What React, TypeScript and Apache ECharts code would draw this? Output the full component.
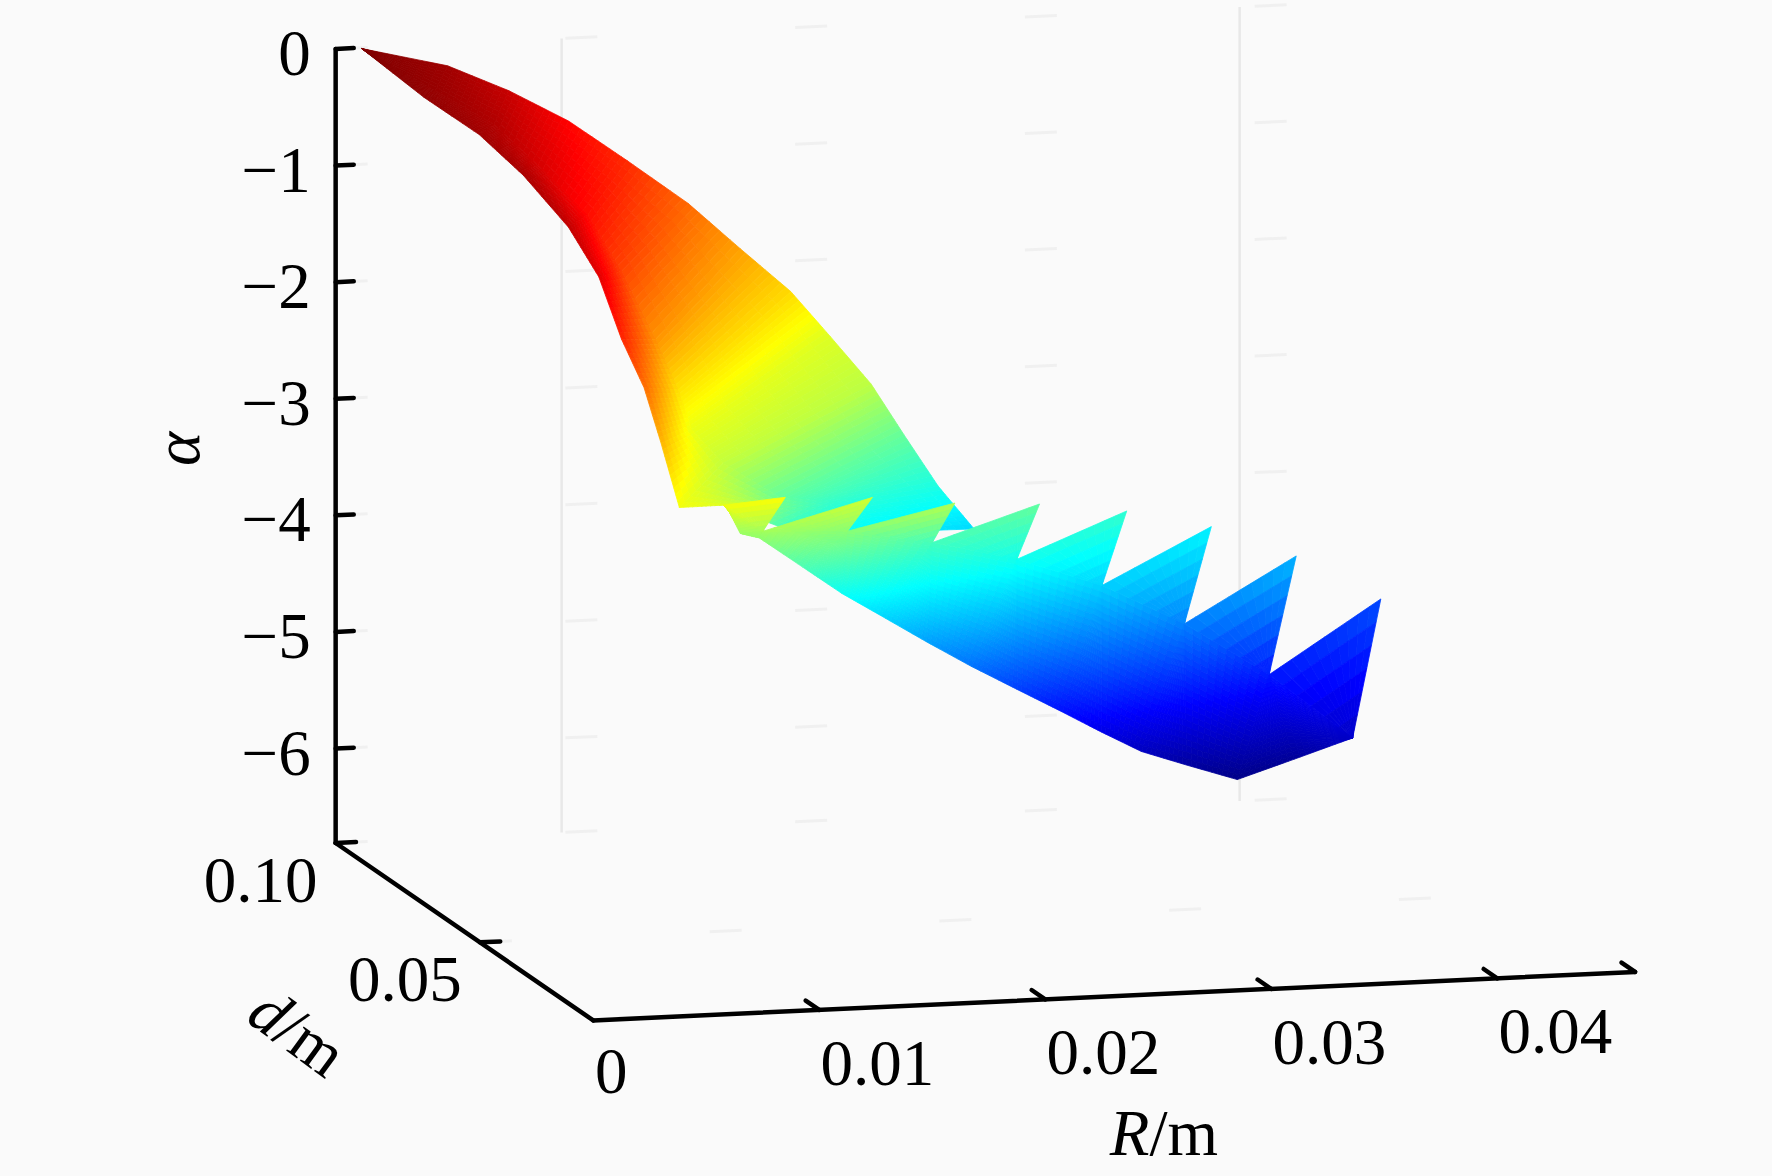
import React, { useEffect, useRef } from "react";
import * as echarts from "echarts";

// Surface nodes. Each row is a cross-section of the ribbon: [upper, middle, lower edge]
const ribbonR = [
  [0.0011, 0.0011, 0.0011],
  [0.00503, 0.00267, 0.00145],
  [0.00782, 0.00412, 0.0022],
  [0.01093, 0.00517, 0.00193],
  [0.01273, 0.00643, 0.00173],
  [0.01549, 0.00689, 0.0014],
  [0.01738, 0.00772, 0.0014],
  [0.01935, 0.00911, 0.00257],
  [0.02143, 0.00939, 0.0031],
  [0.02167, 0.01042, 0.00384],
  [0.02383, 0.01493, 0.0065],
  [0.02533, 0.01963, 0.01582],
  [0.02705, 0.0233, 0.01912],
];
const ribbonD = [
  [0.0996, 0.0996, 0.0996],
  [0.1006, 0.0864, 0.0808],
  [0.1013, 0.0774, 0.0675],
  [0.1049, 0.0688, 0.0501],
  [0.0987, 0.063, 0.0282],
  [0.0991, 0.0549, 0.0115],
  [0.0959, 0.0495, 0.0015],
  [0.0938, 0.0527, 0.0032],
  [0.0963, 0.0502, 0.001],
  [0.0841, 0.0466, 0.0003],
  [0.0896, 0.063, 0.0075],
  [0.0896, 0.0783, 0.0661],
  [0.0906, 0.0855, 0.0763],
];
const ribbonAlpha = [
  [0, 0, 0],
  [-0.2, -0.15, -0.1],
  [-0.45, -0.3, -0.2],
  [-0.8, -0.55, -0.25],
  [-1.05, -0.85, -0.4],
  [-1.45, -1.2, -0.6],
  [-1.8, -1.7, -1.0],
  [-2.15, -2.2, -1.45],
  [-2.6, -2.5, -1.9],
  [-2.8, -2.75, -2.45],
  [-3.35, -3.35, -2.55],
  [-3.8, -3.7, -3.7],
  [-4.2, -4.1, -4.0],
];

// Saw-toothed lobe: valleys of the teeth, tips of the teeth, and its lower edge
const valleyR = [0.0058, 0.00938, 0.01395, 0.01994, 0.02454, 0.0293, 0.03392, 0.03893, 0.04209];
const valleyD = [0.0005, 0.0187, 0.0269, 0.0492, 0.0561, 0.0639, 0.0715, 0.0814, 0.0772];
const valleyAlpha = [-2.45, -2.95, -3.1, -3.55, -3.85, -4.25, -4.75, -5.4, -5.9];
const tipR = [0.0085, 0.01386, 0.01834, 0.0253, 0.0306, 0.03562, 0.04018, 0.04566];
const tipD = [0, 0.015, 0.0233, 0.0542, 0.0655, 0.0755, 0.0818, 0.0954];
const tipAlpha = [-2.4, -2.65, -2.85, -3.35, -3.65, -4.0, -4.4, -5.05];
const edgeR = [0.00674, 0.00866, 0.00953, 0.01309, 0.01558, 0.01797, 0.02074, 0.02323, 0.02598, 0.0286, 0.03063, 0.03287, 0.03533, 0.03761, 0.04047, 0.04209];
const edgeD = [0.0074, 0.0215, 0.0218, 0.0358, 0.0457, 0.0516, 0.0576, 0.0614, 0.0673, 0.0722, 0.0744, 0.0782, 0.0818, 0.0821, 0.0849, 0.0772];
const edgeAlpha = [-2.6, -3.0, -3.05, -3.55, -3.9, -4.2, -4.55, -4.85, -5.17, -5.47, -5.7, -5.95, -6.15, -6.3, -6.2, -5.9];

const alphaTicks = [0, -1, -2, -3, -4, -5, -6];
const rTicks = [0, 0.01, 0.02, 0.03, 0.04];
const dTicks = [0.05, 0.1];
const rTickLabels = ["0", "0.01", "0.02", "0.03", "0.04"];
const dTickLabels = ["0.05", "0.10"];
const alphaFloor = -6.81;
const rEnd = 0.0461;
const wallVerticals = [0.01, 0.04];
const colorMin = -6.35;
const colorMax = 0;

const W = 1772;
const H = 1176;
const FONT = '"Liberation Serif", "Times New Roman", serif';

// Oblique view of the (R, d, alpha) box, on hidden pixel-unit axes
function dToDepth(d: number) {
  return d < 0.05 ? d * 8.8 : 0.44 + (d - 0.05) * 11.2;
}
function project(R: number, d: number, a: number): [number, number] {
  const r = R / 0.01;
  const t = dToDepth(d);
  return [
    593.25 + 226 * r - 257.6 * t,
    1020.4 - 10.51 * r - 177.4 * t - 116.6 * (a - alphaFloor),
  ];
}
function jet(a: number) {
  const v = (a - colorMin) / (colorMax - colorMin);
  const c = (x: number) => Math.round(255 * Math.max(0, Math.min(1, 1.5 - Math.abs(x))));
  return `rgb(${c(4 * v - 3)},${c(4 * v - 2)},${c(4 * v - 1)})`;
}

function quads(Rs: number[][], Ds: number[][], As: number[][]) {
  const out: number[][] = [];
  for (let i = 0; i + 1 < Rs.length; i++) {
    for (let j = 0; j + 1 < Rs[i].length; j++) {
      out.push([
        Rs[i][j], Ds[i][j], As[i][j],
        Rs[i + 1][j], Ds[i + 1][j], As[i + 1][j],
        Rs[i + 1][j + 1], Ds[i + 1][j + 1], As[i + 1][j + 1],
        Rs[i][j + 1], Ds[i][j + 1], As[i][j + 1],
      ]);
    }
  }
  return out;
}

// The lobe's body: rows from the valley rail to the lower edge
function lobeBody() {
  const rows: number[][] = [];
  for (let k = 0; k + 1 < valleyR.length; k++) {
    rows.push([k, 2 * k]);
    rows.push([k + 1, 2 * k + 1]);
  }
  return quads(
    rows.map(([v, e]) => [valleyR[v], edgeR[e]]),
    rows.map(([v, e]) => [valleyD[v], edgeD[e]]),
    rows.map(([v, e]) => [valleyAlpha[v], edgeAlpha[e]])
  );
}
// One triangular tooth per tip, between two neighbouring valleys
function lobeTeeth() {
  return tipR.map((_, k) => [
    valleyR[k], valleyD[k], valleyAlpha[k],
    tipR[k], tipD[k], tipAlpha[k],
    valleyR[k + 1], valleyD[k + 1], valleyAlpha[k + 1],
    valleyR[k + 1], valleyD[k + 1], valleyAlpha[k + 1],
  ]);
}

function surfaceRenderer(nu: number, nv: number) {
  return (_p: any, api: any) => {
    const corners = [0, 1, 2, 3].map((k) => {
      const a = api.value(k * 3 + 2);
      const [x, y] = project(api.value(k * 3), api.value(k * 3 + 1), a);
      return [x, y, a];
    });
    const at = (u: number, v: number) =>
      [0, 1, 2].map(
        (m) =>
          corners[0][m] * (1 - u) * (1 - v) +
          corners[1][m] * u * (1 - v) +
          corners[2][m] * u * v +
          corners[3][m] * (1 - u) * v
      );
    const children: any[] = [];
    for (let i = 0; i < nu; i++) {
      for (let j = 0; j < nv; j++) {
        const ps = [
          at(i / nu, j / nv),
          at((i + 1) / nu, j / nv),
          at((i + 1) / nu, (j + 1) / nv),
          at(i / nu, (j + 1) / nv),
        ];
        const mean = (ps[0][2] + ps[1][2] + ps[2][2] + ps[3][2]) / 4;
        const col = jet(mean);
        children.push({
          type: "polygon",
          shape: { points: ps.map((p) => api.coord([p[0], p[1]])) },
          style: { fill: col, stroke: col, lineWidth: 0.8 },
        });
      }
    }
    return { type: "group", children };
  };
}

function surfaceSeries(data: number[][], nu: number, nv: number) {
  return {
    type: "custom",
    silent: true,
    coordinateSystem: "cartesian2d",
    clip: false,
    data,
    renderItem: surfaceRenderer(nu, nv),
  };
}

function segmentSeries(segs: number[][], color: string, width: number, dash?: number[], cap = "round") {
  return {
    type: "custom",
    silent: true,
    coordinateSystem: "cartesian2d",
    clip: false,
    data: segs,
    renderItem: (_p: any, api: any) => {
      const a = project(api.value(0), api.value(1), api.value(2));
      const b = project(api.value(3), api.value(4), api.value(5));
      const p = api.coord(a);
      const q = api.coord(b);
      return {
        type: "line",
        shape: { x1: p[0], y1: p[1], x2: q[0], y2: q[1] },
        style: { stroke: color, lineWidth: width, lineDash: dash, lineCap: cap },
      };
    },
  };
}

export default function App() {
  const ref = useRef<HTMLDivElement>(null);
  useEffect(() => {
    document.body.style.margin = "0";
    document.body.style.background = "#fafafa";
    const chart = echarts.init(ref.current!, null, { renderer: "svg" });

    // axes and ticks
    const axisSegs: number[][] = [
      [0, 0.1, 0, 0, 0.1, alphaFloor],
      [0, 0.1, alphaFloor, 0, 0, alphaFloor],
      [0, 0, alphaFloor, rEnd, 0, alphaFloor],
    ];
    alphaTicks.forEach((a) => axisSegs.push([0, 0.1, a, 0.0008, 0.1, a]));
    dTicks.forEach((d) => axisSegs.push([0, d, alphaFloor, 0.0009, d, alphaFloor]));
    rTicks.slice(1).concat([rEnd]).forEach((R) => axisSegs.push([R, 0, alphaFloor, R, 0.006, alphaFloor]));

    // faint remains of the grid on the back wall and floor
    const wallDash: number[][] = [];
    alphaTicks.forEach((a) => wallDash.push([0, 0.1, a, rEnd, 0.1, a]));
    const floorDash: number[][] = dTicks.map((d) => [0, d, alphaFloor, rEnd, d, alphaFloor]);
    const wallLines: number[][] = wallVerticals.map((R) => [R, 0.1, 0, R, 0.1, alphaFloor]);

    const labels: any[] = [];
    const txt = (text: string, x: number, y: number, align = "center", extra: any = {}, rich?: any) =>
      labels.push({
        type: "text",
        x,
        y,
        silent: true,
        ...extra,
        style: {
          text,
          fontFamily: FONT,
          fontSize: 65,
          fill: "#000",
          textAlign: align,
          textVerticalAlign: "middle",
          ...(rich ? { rich } : {}),
        },
      });
    alphaTicks.forEach((a) => {
      const [x, y] = project(0, 0.1, a);
      txt(a === 0 ? "0" : "\u2212" + Math.abs(a), x - 25, y + 4, "right");
    });
    rTicks.forEach((R, i) => {
      const [x, y] = project(R, 0, alphaFloor);
      txt(rTickLabels[i], x + (R === 0 ? 18 : 58), y + (R === 0 ? 51 : 53));
    });
    dTicks.forEach((d, i) => {
      const [x, y] = project(0, d, alphaFloor);
      txt(dTickLabels[i], x - 75, y + 37);
    });
    const ital = { i: { fontFamily: FONT, fontSize: 65, fontStyle: "italic", fill: "#000" }, n: { fontFamily: FONT, fontSize: 65, fill: "#000" } };
    txt("{i|\u03b1}", 177, 449, "center", { rotation: Math.PI / 2 }, ital);
    txt("{i|d}{n|/m}", 298, 1032, "center", { rotation: -0.63 }, ital);
    txt("{i|R}{n|/m}", 1164, 1133, "center", {}, ital);

    chart.setOption({
      animation: false,
      backgroundColor: "#fafafa",
      tooltip: { show: false },
      grid: { left: 0, right: 0, top: 0, bottom: 0 },
      xAxis: { type: "value", min: 0, max: W, show: false },
      yAxis: { type: "value", min: 0, max: H, inverse: true, show: false },
      graphic: { elements: labels },
      series: [
        segmentSeries(wallLines, "#e8e8e8", 2.5, undefined, "butt"),
        segmentSeries(wallDash, "#f0f0f0", 3, [32, 198], "butt"),
        segmentSeries(floorDash, "#f0f0f0", 3, [32, 198], "butt"),
        surfaceSeries(quads(ribbonR, ribbonD, ribbonAlpha), 10, 8),
        surfaceSeries(lobeBody(), 10, 22),
        surfaceSeries(lobeTeeth(), 10, 6),
        segmentSeries(axisSegs, "#000", 4.5),
      ],
    });
    return () => chart.dispose();
  }, []);
  return <div ref={ref} style={{ width: W, height: H, background: "#fafafa" }} />;
}
